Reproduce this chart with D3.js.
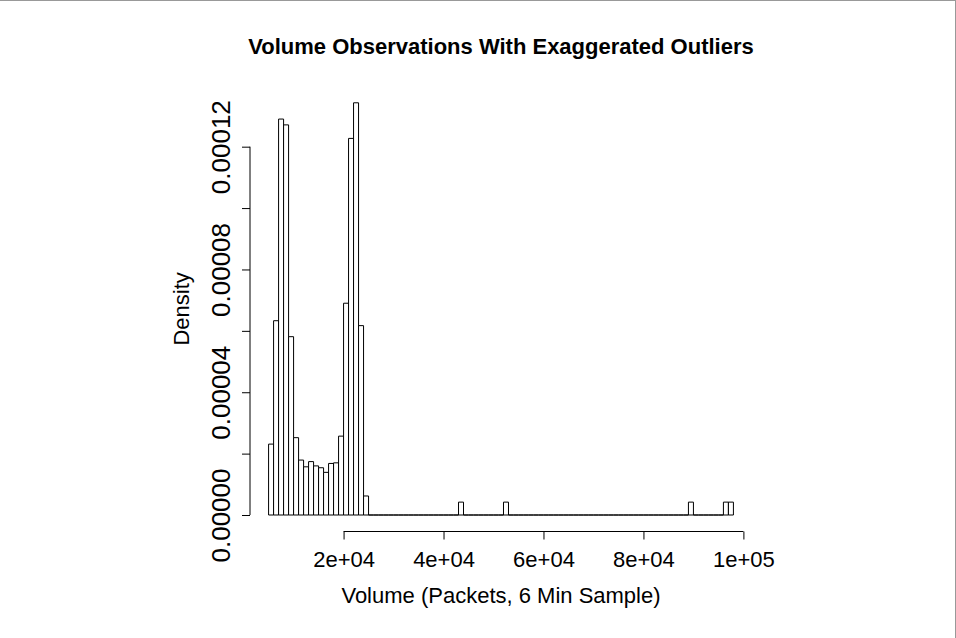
<!DOCTYPE html>
<html>
<head>
<meta charset="utf-8">
<script src="https://cdn.jsdelivr.net/npm/d3@7"></script>
<style>
  html, body { margin: 0; padding: 0; background: #fff; }
  svg { display: block; font-family: "Liberation Sans", Arial, Helvetica, sans-serif; }
</style>
</head>
<body>
<svg id="chart" width="956" height="638"></svg>
<script>
// ---- data ----
const binStarts = [
  5000, 6000, 7000, 8000, 9000, 10000, 11000, 12000, 13000, 14000,
  15000, 16000, 17000, 18000, 19000, 20000, 21000, 22000, 23000, 24000,
  25000, 26000, 27000, 28000, 29000, 30000, 31000, 32000, 33000, 34000,
  35000, 36000, 37000, 38000, 39000, 40000, 41000, 42000, 43000, 44000,
  45000, 46000, 47000, 48000, 49000, 50000, 51000, 52000, 53000, 54000,
  55000, 56000, 57000, 58000, 59000, 60000, 61000, 62000, 63000, 64000,
  65000, 66000, 67000, 68000, 69000, 70000, 71000, 72000, 73000, 74000,
  75000, 76000, 77000, 78000, 79000, 80000, 81000, 82000, 83000, 84000,
  85000, 86000, 87000, 88000, 89000, 90000, 91000, 92000, 93000, 94000,
  95000, 96000, 97000
];
const binEnds = [
  6000, 7000, 8000, 9000, 10000, 11000, 12000, 13000, 14000, 15000,
  16000, 17000, 18000, 19000, 20000, 21000, 22000, 23000, 24000, 25000,
  26000, 27000, 28000, 29000, 30000, 31000, 32000, 33000, 34000, 35000,
  36000, 37000, 38000, 39000, 40000, 41000, 42000, 43000, 44000, 45000,
  46000, 47000, 48000, 49000, 50000, 51000, 52000, 53000, 54000, 55000,
  56000, 57000, 58000, 59000, 60000, 61000, 62000, 63000, 64000, 65000,
  66000, 67000, 68000, 69000, 70000, 71000, 72000, 73000, 74000, 75000,
  76000, 77000, 78000, 79000, 80000, 81000, 82000, 83000, 84000, 85000,
  86000, 87000, 88000, 89000, 90000, 91000, 92000, 93000, 94000, 95000,
  96000, 97000, 98000
];
const density = [
  2.31e-5, 6.33e-5, 1.290e-4, 1.271e-4, 5.81e-5, 2.52e-5, 1.79e-5, 1.57e-5, 1.74e-5, 1.60e-5,
  1.54e-5, 1.39e-5, 1.68e-5, 1.70e-5, 2.57e-5, 6.90e-5, 1.227e-4, 1.343e-4, 6.17e-5, 6.2e-6,
  0, 0, 0, 0, 0, 0, 0, 0, 0, 0,
  0, 0, 0, 0, 0, 0, 0, 0, 4.2e-6, 0,
  0, 0, 0, 0, 0, 0, 0, 4.2e-6, 0, 0,
  0, 0, 0, 0, 0, 0, 0, 0, 0, 0,
  0, 0, 0, 0, 0, 0, 0, 0, 0, 0,
  0, 0, 0, 0, 0, 0, 0, 0, 0, 0,
  0, 0, 0, 0, 4.2e-6, 0, 0, 0, 0, 0,
  0, 4.2e-6, 4.2e-6
];
const xTicks = [20000, 40000, 60000, 80000, 100000];
const xTickLabels = ["2e+04", "4e+04", "6e+04", "8e+04", "1e+05"];
const yTicks = [0, 0.00002, 0.00004, 0.00006, 0.00008, 0.0001, 0.00012];
const yTickLabels = ["0.00000", "", "0.00004", "", "0.00008", "", "0.00012"];
const titleText = "Volume Observations With Exaggerated Outliers";
const xLabelText = "Volume (Packets, 6 Min Sample)";
const yLabelText = "Density";

// ---- layout ----
const plot = { left: 250, right: 752, top: 86.3, bottom: 531.5 };
const svg = d3.select("#chart");

svg.append("rect").attr("x", 0).attr("y", 0).attr("width", 956).attr("height", 638).attr("fill", "#fff");
// thin frame of the picture (top and right)
svg.append("line").attr("x1", 0).attr("x2", 955.5).attr("y1", 0.5).attr("y2", 0.5).attr("stroke", "#999");
svg.append("line").attr("x1", 955.5).attr("x2", 955.5).attr("y1", 0).attr("y2", 638).attr("stroke", "#999");

const xMin = d3.min(binStarts), xMax = d3.max(binEnds);
const xPad = (xMax - xMin) * 0.04;
const x = d3.scaleLinear().domain([xMin - xPad, xMax + xPad]).range([plot.left, plot.right]);
const yMax = d3.max(density);
const yPad = yMax * 0.04;
const y = d3.scaleLinear().domain([-yPad, yMax + yPad]).range([plot.bottom, plot.top]);

const bins = binStarts.map((s, i) => ({ x0: s, x1: binEnds[i], d: density[i] }));

// bars as closed paths so zero-height bins still draw their outline on the baseline
svg.append("g").selectAll("path").data(bins).join("path")
  .attr("d", d => {
    const p = d3.path();
    p.moveTo(x(d.x0), y(0));
    p.lineTo(x(d.x0), y(d.d));
    p.lineTo(x(d.x1), y(d.d));
    p.lineTo(x(d.x1), y(0));
    p.closePath();
    return p.toString();
  })
  .attr("fill", "#fff")
  .attr("stroke", "#000")
  .attr("stroke-width", 1);

// x axis (R style: line spans first to last tick)
const xAxis = d3.axisBottom(x).tickValues(xTicks).tickFormat((d, i) => xTickLabels[i]).tickSize(8).tickSizeOuter(0).tickPadding(0);
const gx = svg.append("g").attr("transform", `translate(0,${plot.bottom})`).call(xAxis);
gx.select(".domain").remove();
gx.append("line").attr("x1", x(xTicks[0])).attr("x2", x(xTicks[xTicks.length - 1])).attr("y1", 0).attr("y2", 0).attr("stroke", "#000");
gx.selectAll(".tick line").attr("stroke", "#000");
gx.selectAll(".tick text").attr("y", 35).attr("dy", 0).attr("fill", "#000")
  .style("font-size", "22px").style("font-family", "Liberation Sans, Arial, sans-serif");

// y axis
const yAxis = d3.axisLeft(y).tickValues(yTicks).tickFormat((d, i) => yTickLabels[i]).tickSize(8).tickSizeOuter(0);
const gy = svg.append("g").attr("transform", `translate(${plot.left},0)`).call(yAxis);
gy.select(".domain").remove();
gy.append("line").attr("x1", 0).attr("x2", 0).attr("y1", y(yTicks[0])).attr("y2", y(yTicks[yTicks.length - 1])).attr("stroke", "#000");
gy.selectAll(".tick line").attr("stroke", "#000");
gy.selectAll(".tick text")
  .attr("transform", "rotate(-90)")
  .attr("x", 0).attr("y", -20).attr("dy", 0)
  .attr("text-anchor", "middle").attr("fill", "#000")
  .style("font-size", "26px").style("font-family", "Liberation Sans, Arial, sans-serif");

const cx = (plot.left + plot.right) / 2;
const cy = (plot.top + plot.bottom) / 2;

svg.append("text").attr("x", cx).attr("y", 54).attr("text-anchor", "middle")
  .style("font-size", "22px").style("font-weight", "bold").attr("fill", "#000").text(titleText);

svg.append("text").attr("x", cx).attr("y", 603).attr("text-anchor", "middle")
  .style("font-size", "22px").attr("fill", "#000").text(xLabelText);

svg.append("text").attr("transform", `translate(189,${cy}) rotate(-90)`).attr("text-anchor", "middle")
  .style("font-size", "22px").attr("fill", "#000").text(yLabelText);
</script>
</body>
</html>
